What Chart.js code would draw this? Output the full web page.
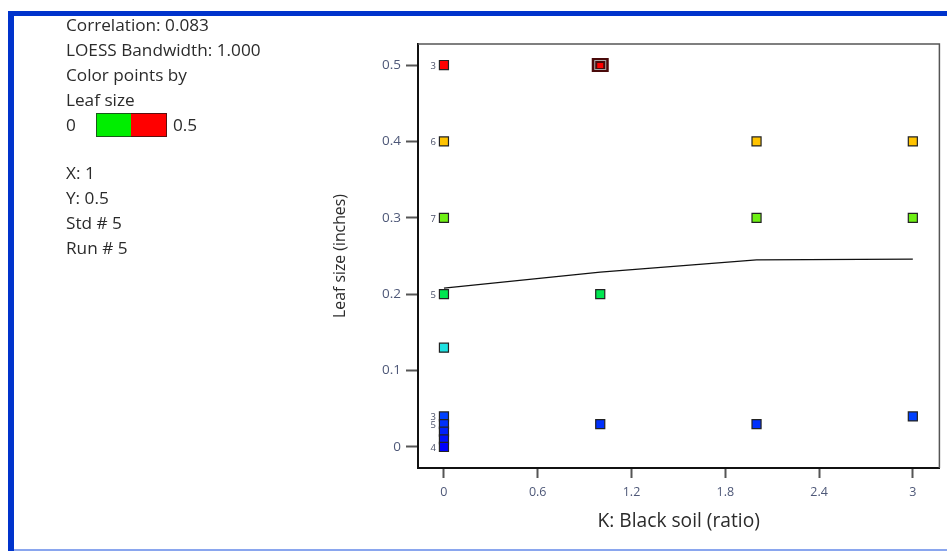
<!DOCTYPE html>
<html>
<head>
<meta charset="utf-8">
<script src="https://cdn.jsdelivr.net/npm/chart.js@4.4.0/dist/chart.umd.min.js"></script>
<style>
  html, body { margin: 0; padding: 0; background: #fff; }
  body { width: 947px; height: 551px; position: relative; overflow: hidden; font-family: "Open Sans", sans-serif; }
  #chart { position: absolute; left: 0; top: 0; }
  .frame-top { position: absolute; left: 8px; top: 11px; width: 939px; height: 5px; background: #0033cc; }
  .frame-left { position: absolute; left: 8px; top: 11px; width: 6px; height: 540px; background: #0033cc; }
  .frame-bottom { position: absolute; left: 14px; top: 549px; width: 933px; height: 2px; background: #8aa6ee; }
  .info { position: absolute; left: 66px; font-size: 17.2px; color: #2b2b2b; line-height: 20px; white-space: nowrap; }
  .bar { position: absolute; top: 113px; height: 22px; border: 1px solid #222; }
</style>
</head>
<body>
<div class="frame-top"></div>
<div class="frame-left"></div>
<div class="frame-bottom"></div>
<canvas id="chart" width="947" height="551"></canvas>
<div id="info"></div>
<script>
/*********************************
 * DATA                          *
 *********************************/
const correlation = '0.083';
const bandwidth = '1.000';
const colorBy = 'Leaf size';

// design points: K (ratio) and leaf size (inches)
const pointX = [0, 0, 0, 0, 0, 0, 0, 0, 0, 0, 1, 1, 1, 2, 2, 2, 3, 3, 3];
const pointY = [0.5, 0.4, 0.3, 0.2, 0.13, 0.04, 0.03, 0.02, 0.01, 0, 0.5, 0.2, 0.03, 0.4, 0.3, 0.03, 0.4, 0.3, 0.04];
// number of runs stacked on a point
const pointCounts = ['3', '6', '7', '5', '', '3', '5', '', '', '4', '', '', '', '', '', '', '', '', ''];

// LOESS fit
const loessX = [0, 1, 2, 3];
const loessY = [0.208, 0.229, 0.245, 0.246];

const xTicks = [0, 0.6, 1.2, 1.8, 2.4, 3];
const yTicks = [0, 0.1, 0.2, 0.3, 0.4, 0.5];

// selected point
const selX = 1;
const selY = 0.5;
const selStd = 5;
const selRun = 5;

/*********************************
 * LEFT PANEL                    *
 *********************************/
const info = document.getElementById('info');
const lines = [
  [25, 'Correlation: ' + correlation],
  [50, 'LOESS Bandwidth: ' + bandwidth],
  [75, 'Color points by'],
  [100, colorBy],
  [125, '0'],
  [173, 'X: ' + selX],
  [198, 'Y: ' + selY],
  [223, 'Std # ' + selStd],
  [248, 'Run # ' + selRun]
];
lines.forEach(l => {
  const d = document.createElement('div');
  d.className = 'info';
  d.style.top = (l[0] - 10) + 'px';
  d.textContent = l[1];
  info.appendChild(d);
});
const hi = document.createElement('div');
hi.className = 'info';
hi.style.top = (125 - 10) + 'px';
hi.style.left = '173px';
hi.textContent = '0.5';
info.appendChild(hi);
const g = document.createElement('div');
g.className = 'bar';
g.style.cssText += 'left:96px;width:34px;background:#00ee00;border-right:none;border-color:#1a5a1a;';
info.appendChild(g);
const r = document.createElement('div');
r.className = 'bar';
r.style.cssText += 'left:131px;width:35px;background:#ff0000;border-left:none;border-color:#5a1010;';
info.appendChild(r);

/*********************************
 * CHART                         *
 *********************************/
// leaf size -> colour
const stops = [
  [0, [0, 0, 250]], [0.05, [0, 80, 255]], [0.13, [30, 225, 225]], [0.2, [0, 230, 80]],
  [0.3, [110, 240, 20]], [0.4, [255, 195, 0]], [0.5, [255, 0, 0]]
];
function colorFor(v) {
  for (let i = 1; i < stops.length; i++) {
    if (v <= stops[i][0]) {
      const a = stops[i - 1], b = stops[i];
      const t = (v - a[0]) / (b[0] - a[0]);
      const c = a[1].map((ch, k) => Math.round(ch + (b[1][k] - ch) * t));
      return `rgb(${c[0]},${c[1]},${c[2]})`;
    }
  }
  return 'rgb(255,0,0)';
}

const points = pointX.map((x, i) => ({ x: x, y: pointY[i] }));

const extras = {
  id: 'extras',
  afterDatasetsDraw(chart) {
    const ctx = chart.ctx;
    const xs = chart.scales.x, ys = chart.scales.y;
    const area = chart.chartArea;
    // top/right frame
    ctx.save();
    ctx.strokeStyle = '#555';
    ctx.lineWidth = 1.5;
    ctx.beginPath();
    ctx.moveTo(area.left, area.top);
    ctx.lineTo(area.right, area.top);
    ctx.lineTo(area.right, area.bottom);
    ctx.stroke();
    // run counts
    ctx.font = '9.5px "Open Sans"';
    ctx.fillStyle = '#4a5068';
    ctx.textAlign = 'right';
    ctx.textBaseline = 'middle';
    pointCounts.forEach((c, i) => {
      if (!c) return;
      ctx.fillText(c, xs.getPixelForValue(pointX[i]) - 8, ys.getPixelForValue(pointY[i]) + 1);
    });
    // selected point marker
    const px = xs.getPixelForValue(selX), py = ys.getPixelForValue(selY);
    ctx.fillStyle = '#4a0a0a';
    ctx.fillRect(px - 8.5, py - 7, 17, 14);
    ctx.strokeStyle = '#aaa';
    ctx.lineWidth = 1;
    ctx.strokeRect(px - 5.5, py - 4.5, 11, 9);
    ctx.fillStyle = '#ff0000';
    ctx.fillRect(px - 3, py - 2, 6, 5);
    ctx.restore();
  }
};

const chart = new Chart(document.getElementById('chart'), {
  type: 'scatter',
  data: {
    datasets: [{
      type: 'line',
      data: loessX.map((x, i) => ({ x: x, y: loessY[i] })),
      borderColor: '#111',
      borderWidth: 1.3,
      pointRadius: 0,
      fill: false
    }, {
      data: points,
      pointStyle: 'rect',
      pointRadius: 6.4,
      pointBorderWidth: 1.2,
      pointBorderColor: '#222',
      pointBackgroundColor: points.map(p => colorFor(p.y))
    }]
  },
  options: {
    responsive: false,
    animation: false,
    layout: { padding: { left: 327, right: 6, top: 44, bottom: 14 } },
    plugins: { legend: { display: false }, tooltip: { enabled: false } },
    scales: {
      x: {
        type: 'linear',
        min: -0.166,
        max: 3.17,
        afterBuildTicks: s => { s.ticks = xTicks.map(v => ({ value: v })); },
        afterFit: s => { s.height = 69; },
        grid: { drawOnChartArea: false, drawTicks: true, tickLength: 10, tickWidth: 2, tickColor: '#555' },
        border: { color: '#111', width: 2 },
        ticks: { color: '#4e5878', font: { family: 'Open Sans', size: 12.5 }, padding: 7, maxRotation: 0, callback: v => String(v) },
        title: { display: true, text: 'K: Black soil (ratio)', color: '#2b2b2b', font: { family: 'Open Sans', size: 19.2 } }
      },
      y: {
        min: -0.0275,
        max: 0.5275,
        afterBuildTicks: s => { s.ticks = yTicks.map(v => ({ value: v })); },
        afterFit: s => { s.width = 91; },
        grid: { drawOnChartArea: false, drawTicks: true, tickLength: 12, tickWidth: 2, tickColor: '#555' },
        border: { color: '#111', width: 2 },
        ticks: { color: '#4e5878', font: { family: 'Open Sans', size: 13.5 }, padding: 5, callback: v => String(v) },
        title: { display: true, text: 'Leaf size (inches)', color: '#2b2b2b', font: { family: 'Open Sans', size: 15.8 } }
      }
    }
  },
  plugins: [extras]
});
</script>
</body>
</html>
